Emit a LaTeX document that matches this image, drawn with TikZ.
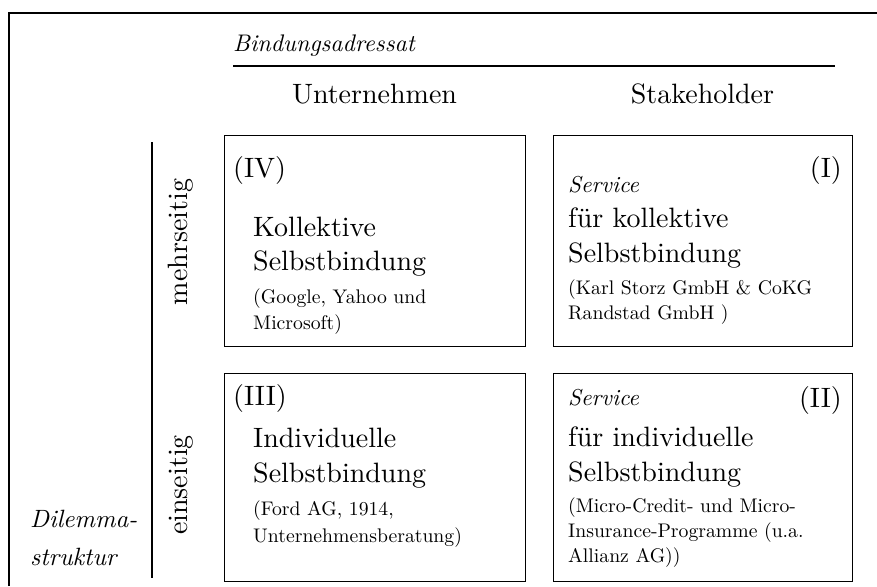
\documentclass[tikz,border=0pt]{standalone}
\usepackage{fontspec}
\setmainfont{lmroman10-regular.otf}[ItalicFont=lmroman10-italic.otf]
\begin{document}
\begin{tikzpicture}[x=1pt,y=-1pt,
  box/.style={draw, line width=1.2pt, minimum width=#1, minimum height=211pt, anchor=north west, inner sep=0pt},
  big/.style={font=\fontsize{28}{34}\selectfont, anchor=base west, inner sep=0pt},
  head/.style={font=\fontsize{28}{34}\selectfont, anchor=base, inner sep=0pt},
  small/.style={font=\fontsize{19.7}{24}\selectfont, anchor=base west, inner sep=0pt},
  serv/.style={font=\fontsize{23}{27}\selectfont\itshape, anchor=base west, inner sep=0pt},
  numw/.style={font=\fontsize{28}{34}\selectfont, anchor=base west, inner sep=0pt},
  nume/.style={font=\fontsize{28}{34}\selectfont, anchor=base east, inner sep=0pt},
  side/.style={font=\fontsize{28}{34}\selectfont, rotate=90, anchor=base, inner sep=0pt},
  dil/.style={font=\fontsize{25}{30}\selectfont\itshape, anchor=base west, inner sep=0pt}
]
\useasboundingbox (0,0) rectangle (877,586);
% outer frame (only left and top visible)
\coordinate (fbl) at (9,586);
\coordinate (ftl) at (9,13);
\coordinate (ftr) at (877,13);
\draw[line width=2pt] (fbl) -- (ftl) -- (ftr);

% header
\node[font=\fontsize{24}{28}\selectfont\itshape, anchor=base west, inner sep=0pt] (adr) at (233,52) {Bindungsadressat};
\coordinate (hl) at (233,66);
\coordinate (hr) at (835,66);
\draw[line width=1.4pt] (hl) -- (hr);
\node[head] (unt) at (374.5,103) {Unternehmen};
\node[head] (stk) at (702.5,103) {Stakeholder};

% vertical axis line
\coordinate (vt) at (152,142);
\coordinate (vb) at (152,578);
\draw[line width=1.2pt] (vt) -- (vb);
\node[side] (mehr) at (187,242) {mehrseitig};
\node[side] (ein) at (187,485) {einseitig};
\node[dil] (dil1) at (30,527) {Dilemma-};
\node[dil] (dil2) at (30,565) {struktur};

% boxes
\node[box=301pt] (b4) at (224,135) {};
\node[box=299pt] (b1) at (553,135) {};
\node[box=301pt, minimum height=208pt] (b3) at (224,373) {};
\node[box=299pt, minimum height=208pt] (b2) at (553,373) {};

% box IV
\node[numw] (n4) at (233,177) {(IV)};
\node[big] (t4a) at (253,236) {Kollektive};
\node[big] (t4b) at (253,270) {Selbstbindung};
\node[small] (t4c) at (253,303) {(Google, Yahoo und};
\node[small] (t4d) at (253,329) {Microsoft)};

% box I
\node[nume] (n1) at (842,177) {(I)};
\node[serv] (s1) at (568,192) {Service};
\node[big] (t1a) at (568,227) {für kollektive};
\node[big] (t1b) at (568,262) {Selbstbindung};
\node[small] (t1c) at (568,294) {(Karl Storz GmbH \& CoKG};
\node[small] (t1d) at (568,319) {Randstad GmbH )};

% box III
\node[numw] (n3) at (233,405) {(III)};
\node[big] (t3a) at (253,447) {Individuelle};
\node[big] (t3b) at (253,482) {Selbstbindung};
\node[small] (t3c) at (253,515) {(Ford AG, 1914,};
\node[small] (t3d) at (253,542) {Unternehmensberatung)};

% box II
\node[nume] (n2) at (842,407) {(II)};
\node[serv] (s2) at (568,405) {Service};
\node[big] (t2a) at (568,446) {für individuelle};
\node[big] (t2b) at (568,481) {Selbstbindung};
\node[small] (t2c) at (568,512) {(Micro-Credit- und Micro-};
\node[small] (t2d) at (568,537) {Insurance-Programme (u.a.};
\node[small] (t2e) at (568,562) {Allianz AG))};
\end{tikzpicture}
\end{document}
